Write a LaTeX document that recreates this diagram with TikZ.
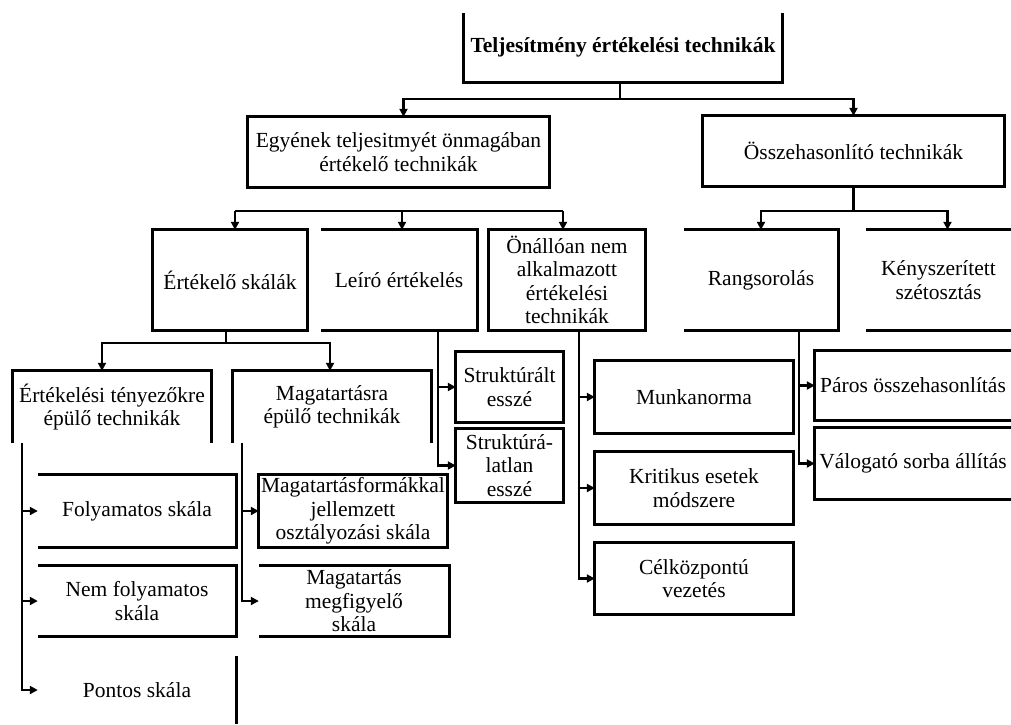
\documentclass[tikz,border=0pt]{standalone}
\usepackage{fontspec}
\setmainfont{Liberation Serif}
\usetikzlibrary{arrows.meta}
\begin{document}
\begin{tikzpicture}[x=1pt,y=-1pt,
  lbl/.style={inner sep=0pt, align=center, font=\fontsize{21.5}{23.5}\selectfont},
  frame/.style={line width=2.7pt, line join=miter},
  conn/.style={line width=2.2pt},
  arr/.style={conn, -{Triangle[length=8pt,width=8pt]}},
]
\useasboundingbox (0,0) rectangle (1011,724);

% ---- level 1 and 2
\node[lbl, minimum width=318pt, minimum height=69pt] (top) at (623,47.5) {\bfseries Teljesítmény értékelési technikák};
\node[lbl, minimum width=301pt, minimum height=70pt] (egy) at (398.5,152) {Egyének teljesitmyét önmagában\\értékelő technikák};
\node[lbl, minimum width=301pt, minimum height=70pt] (ossz) at (853.5,151) {Összehasonlító technikák};

% ---- level 3
\node[lbl, minimum width=154pt, minimum height=100pt] (esk) at (230,280) {Értékelő skálák};
\node[lbl, minimum width=156pt, minimum height=100pt] (leiro) at (399,280) {Leíró értékelés};
\node[lbl, minimum width=156pt, minimum height=100pt] (onall) at (567,280) {Önállóan nem\\alkalmazott\\értékelési\\technikák};
\node[lbl, minimum width=154pt, minimum height=100pt] (rang) at (761,280) {Rangsorolás};
\node[lbl, minimum width=145pt, minimum height=100pt] (keny) at (938.5,280) {Kényszerített\\szétosztás};

% ---- level 4, left branch
\node[lbl, minimum width=198pt, minimum height=72pt] (ert) at (112,407) {Értékelési tényezőkre\\épülő technikák};
\node[lbl, minimum width=198pt, minimum height=72pt] (mag) at (332,407) {Magatartásra\\épülő technikák};
\node[lbl, minimum width=198pt, minimum height=72pt] (foly) at (137,511) {Folyamatos skála};
\node[lbl, minimum width=198pt, minimum height=70pt] (nemf) at (137,601) {Nem folyamatos\\skála};
\node[lbl, minimum width=198pt, minimum height=68pt] (pont) at (137,690) {Pontos skála};
\node[lbl, minimum width=188pt, minimum height=72pt] (magf) at (353,511) {Magatartásformákkal\\jellemzett\\osztályozási skála};
\node[lbl, minimum width=190pt, minimum height=70pt] (megf) at (354,601) {Magatartás\\megfigyelő\\skála};

% ---- level 4, middle and right branches
\node[lbl, minimum width=107pt, minimum height=70pt] (str) at (509.5,387) {Struktúrált\\esszé};
\node[lbl, minimum width=107pt, minimum height=73pt] (strl) at (509.5,465.5) {Struktúrá-\\latlan\\esszé};
\node[lbl, minimum width=198pt, minimum height=72pt] (munk) at (694,397) {Munkanorma};
\node[lbl, minimum width=198pt, minimum height=72pt] (krit) at (694,488) {Kritikus esetek\\módszere};
\node[lbl, minimum width=198pt, minimum height=71pt] (cel) at (694,578.5) {Célközpontú\\vezetés};
\node[lbl, minimum width=196pt, minimum height=69pt] (paros) at (913,385.5) {Páros összehasonlítás};
\node[lbl, minimum width=196pt, minimum height=71pt] (valog) at (913,463.5) {Válogató sorba állítás};

% ---- frames (some sides are left open)
\draw[frame] (top.north west) -- (top.south west) -- (top.south east) -- (top.north east);
\foreach \n in {egy,ossz,esk,onall,magf,str,strl,munk,krit,cel}
  \draw[frame] (\n.south west) rectangle (\n.north east);
\foreach \n in {leiro,rang,foly,nemf,megf}
  \draw[frame] (\n.north west) -- (\n.north east) -- (\n.south east) -- (\n.south west);
\foreach \n in {ert,mag}
  \draw[frame] (\n.south west) -- (\n.north west) -- (\n.north east) -- (\n.south east);
\foreach \n in {paros,valog}
  \draw[frame] (\n.north east) -- (\n.north west) -- (\n.south west) -- (\n.south east);
\draw[frame] (keny.north west) -- (keny.north east);
\draw[frame] (keny.south west) -- (keny.south east);
\draw[frame] (pont.north east) -- (pont.south east);

% ---- connectors
% top -> level 2
\coordinate (j0) at ([xshift=-3pt]top.south |- 0,99);
\draw[conn] ([xshift=-3pt]top.south) -- (j0);
\draw[arr] (j0) -| ([xshift=5pt]egy.north);
\draw[arr] (j0) -| (ossz.north);

% bar over the self-contained techniques
\coordinate (j1) at ([xshift=5pt]esk.north |- 0,211);
\coordinate (j2) at ([xshift=-4pt]onall.north |- 0,211);
\draw[conn] (j1) -- (j2);
\draw[arr] (j1) -- ([xshift=5pt]esk.north);
\draw[arr] ([xshift=3pt]leiro.north |- j1) -- ([xshift=3pt]leiro.north);
\draw[arr] (j2) -- ([xshift=-4pt]onall.north);

% comparative techniques
\coordinate (j3) at (ossz.south |- 0,211);
\draw[conn] (ossz.south) -- (j3);
\draw[arr] (j3) -| (rang.north);
\draw[arr] (j3) -| ([xshift=9pt]keny.north);

% rating scales
\coordinate (j4) at ([xshift=-4pt]esk.south |- 0,343);
\draw[conn] ([xshift=-4pt]esk.south) -- (j4);
\draw[arr] (j4) -| ([xshift=-10pt]ert.north);
\draw[arr] (j4) -| ([xshift=-2pt]mag.north);

% factor based techniques
\coordinate (e0) at ([xshift=9pt]ert.south west);
\draw[arr] (e0) |- (foly.west);
\draw[arr] (e0) |- (nemf.west);
\draw[arr] (e0) |- (pont.west);

% behaviour based techniques
\coordinate (m0) at ([xshift=9pt]mag.south west);
\draw[arr] (m0) |- (magf.west);
\draw[arr] (m0) |- (megf.west);

% descriptive evaluation
\coordinate (l0) at ([xshift=39pt]leiro.south);
\draw[arr] (l0) |- (str.west);
\draw[arr] (l0) |- (strl.west);

% not self-contained techniques
\coordinate (o0) at ([xshift=12pt]onall.south);
\draw[arr] (o0) |- (munk.west);
\draw[arr] (o0) |- (krit.west);
\draw[arr] (o0) |- (cel.west);

% ranking
\coordinate (r0) at ([xshift=38pt]rang.south);
\draw[arr] (r0) |- (paros.west);
\draw[arr] (r0) |- (valog.west);
\end{tikzpicture}
\end{document}
